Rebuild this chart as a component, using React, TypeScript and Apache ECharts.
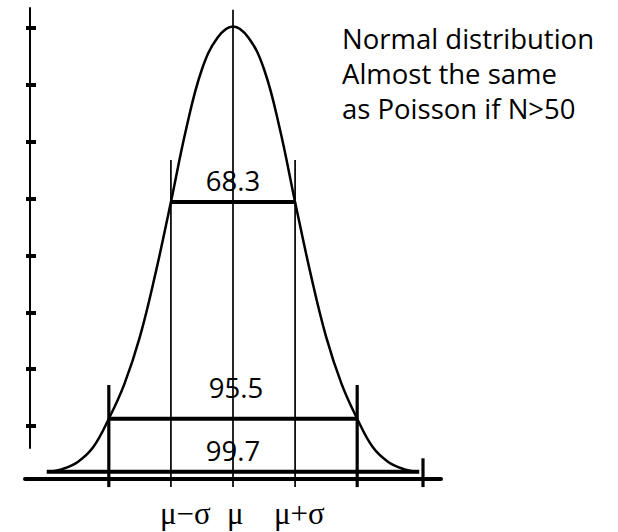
import { useEffect, useRef } from "react";
import * as echarts from "echarts";

// Bell curve sampled in units of σ from the mean (peak height = 1)
const curveSigma = [-2.98, -2.75, -2.5, -2.25, -2, -1.75, -1.5, -1.25, -1, -0.75, -0.5, -0.25, 0,
  0.25, 0.5, 0.75, 1, 1.25, 1.5, 1.75, 2, 2.25, 2.5, 2.75, 2.98];
const curveHeight = [0.01, 0.016, 0.032, 0.065, 0.128, 0.205, 0.31, 0.45, 0.61, 0.775, 0.905, 0.975, 1.0,
  0.975, 0.905, 0.775, 0.61, 0.45, 0.31, 0.205, 0.128, 0.065, 0.032, 0.016, 0.01];

// Coverage bands: ±kσ, percentage inside, and the height at which each band is drawn
const bandSigma = [1, 2, 3];
const bandPercent = ["68.3", "95.5", "99.7"];
const bandHeight = [0.61, 0.128, 0.01];

// Vertical guides at multiples of σ and how high each one reaches
const guideSigma = [-2, -1, 0, 1, 2, 3.06];
const guideTop = [0.203, 0.703, 1.037, 0.703, 0.203, 0.04];
const guideBottom = -0.024;

// Unlabelled ticks on the left scale
const leftTicks = [0, 1, 2, 3, 4, 5, 6, 7];

const sigmaLabels = ["μ−σ", "μ", "μ+σ"];
const noteLines = ["Normal distribution", "Almost the same", "as Poisson if N>50"];

// label placement styles for the band percentages
const bandLabelGap = [7, 17, 7];
const bandLabelShift = [0, 3, 0];
const sigmaLabelLeft = [160, 227, 274];

export default function App() {
  const ref = useRef<HTMLDivElement>(null);

  useEffect(() => {
    if (!ref.current) return;
    document.body.style.margin = "0";
    const chart = echarts.init(ref.current, null, { renderer: "svg" });
    const black = "#000";

    const series: any[] = [];

    series.push({
      type: "line",
      xAxisIndex: 0,
      yAxisIndex: 0,
      data: curveSigma.map((z, i) => [z, curveHeight[i]]),
      smooth: 0.4,
      symbol: "none",
      clip: false,
      lineStyle: { color: black, width: 2.5 },
      z: 3,
    });

    guideSigma.forEach((z, i) => {
      series.push({
        type: "line",
        xAxisIndex: 0,
        yAxisIndex: 0,
        data: [[z, guideBottom], [z, guideTop[i]]],
        symbol: "none",
        clip: false,
        lineStyle: { color: black, width: Math.abs(z) >= 2 ? 3.2 : 1.7, cap: "butt" },
        z: 2,
      });
    });

    bandSigma.forEach((k, i) => {
      series.push({
        type: "line",
        xAxisIndex: 0,
        yAxisIndex: 0,
        data: [[-k, bandHeight[i]], [k, bandHeight[i]]],
        symbol: "none",
        clip: false,
        lineStyle: { color: black, width: 4, cap: "butt" },
        z: 4,
      });
    });

    series.push({
      type: "scatter",
      xAxisIndex: 0,
      yAxisIndex: 0,
      symbolSize: 0,
      itemStyle: { color: black },
      emphasis: { disabled: true },
      data: bandSigma.map((_, i) => ({
        value: [0, bandHeight[i]],
        label: {
          show: true,
          position: "top",
          distance: bandLabelGap[i],
          offset: [bandLabelShift[i], 0],
          formatter: bandPercent[i],
          color: black,
          opacity: 1,
          fontFamily: "Open Sans",
          fontSize: 27.5,
        },
      })),
      z: 5,
    });

    chart.setOption({
      animation: false,
      backgroundColor: "#fff",
      grid: [
        { left: 25, width: 416, top: 4, height: 475 },
        { left: 30, width: 20, top: 8, height: 440 },
      ],
      xAxis: [
        {
          type: "value",
          gridIndex: 0,
          min: -3.35,
          max: 3.35,
          axisLine: { show: true, onZero: false, lineStyle: { color: black, width: 4 } },
          axisTick: { show: false },
          axisLabel: { show: false },
          splitLine: { show: false },
        },
        { type: "value", gridIndex: 1, min: 0, max: 1, show: false },
      ],
      yAxis: [
        { type: "value", gridIndex: 0, min: -0.006, max: 1.05, show: false },
        {
          type: "value",
          gridIndex: 1,
          min: -0.387,
          max: 7.352,
          position: "left",
          axisLine: { show: true, onZero: false, lineStyle: { color: black, width: 2 } },
          axisTick: { show: true, inside: true, length: 6, customValues: leftTicks, lineStyle: { color: black, width: 4 } },
          axisLabel: { show: false },
          splitLine: { show: false },
        },
        {
          type: "value",
          gridIndex: 1,
          min: -0.387,
          max: 7.352,
          position: "left",
          axisLine: { show: false, onZero: false },
          axisTick: { show: true, inside: false, length: 4, customValues: leftTicks, lineStyle: { color: black, width: 4 } },
          axisLabel: { show: false },
          splitLine: { show: false },
        },
      ],
      graphic: [
        {
          type: "text",
          left: 342,
          top: 21,
          style: {
            text: noteLines.join("\n"),
            fill: black,
            font: "27.5px 'Open Sans'",
            lineHeight: 35,
          },
        },
        ...sigmaLabels.map((t, i) => ({
          type: "text",
          left: sigmaLabelLeft[i],
          top: 498,
          style: { text: t, fill: black, font: "31px 'Liberation Serif'" },
        })),
      ],
      series,
    });

    return () => chart.dispose();
  }, []);

  return <div ref={ref} style={{ width: 618, height: 532 }} />;
}
